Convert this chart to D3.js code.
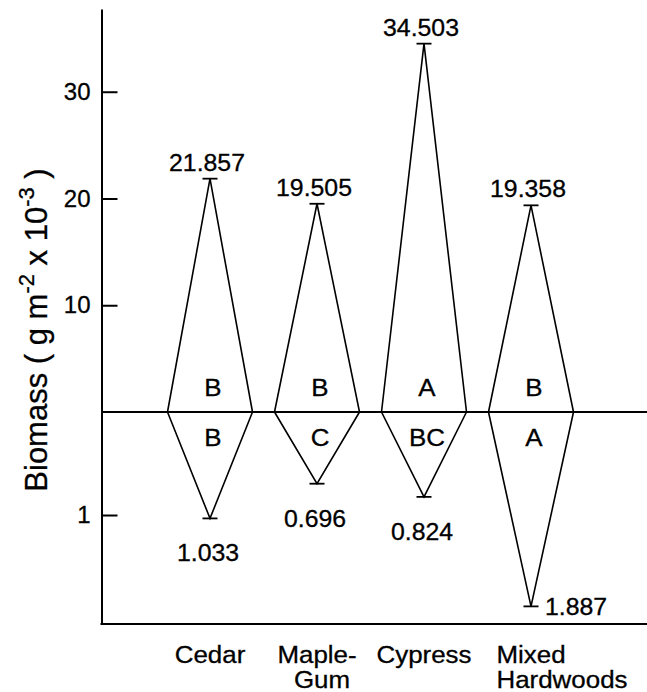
<!DOCTYPE html>
<html>
<head>
<meta charset="utf-8">
<script src="https://cdn.jsdelivr.net/npm/d3@7"></script>
<style>
  html, body { margin: 0; padding: 0; background: #fff; }
  svg { display: block; }
  text { font-family: "Liberation Sans", Arial, Helvetica, sans-serif; fill: #000; stroke: #000; stroke-width: 0.3px; }
</style>
</head>
<body>
<svg id="chart" width="647" height="692"></svg>
<script>
// ---- data ----
const categories = ["Cedar", "Maple-Gum", "Cypress", "Mixed Hardwoods"];
const categoryLines = [["Cedar"], ["Maple-", "Gum"], ["Cypress"], ["Mixed", "Hardwoods"]];
const upperValues = [21.857, 19.505, 34.503, 19.358];   // above-ground
const lowerValues = [1.033, 0.696, 0.824, 1.887];       // below-ground
const upperLetters = ["B", "B", "A", "B"];
const lowerLetters = ["B", "C", "BC", "A"];
const upperTicks = [10, 20, 30];
const lowerTicks = [1];
const upperTickLabels = ["10", "20", "30"];
const lowerTickLabels = ["1"];

// ---- layout ----
const svg = d3.select("#chart");
const axisX = 101.5;
const rightEdge = 647;
const baseY = 412;
const topY = 9;
const bottomY = 624;
const halfW = 42.5;
const capW = 7.5;

const x = d3.scalePoint().domain(categories).range([210, 531]);
const yUp = d3.scaleLinear().domain([0, 37.75]).range([baseY, topY]);
const yLow = d3.scaleLinear().domain([0, 2.058]).range([baseY, bottomY]);

const axUp = d3.axisLeft(yUp).tickValues(upperTicks)
  .tickFormat((d, i) => upperTickLabels[i]).tickSize(-16).tickSizeOuter(0).tickPadding(11);
const axLow = d3.axisLeft(yLow).tickValues(lowerTicks)
  .tickFormat((d, i) => lowerTickLabels[i]).tickSize(-16).tickSizeOuter(0).tickPadding(11);

[axUp, axLow].forEach(ax => {
  const g = svg.append("g").attr("transform", `translate(${axisX},0)`).call(ax);
  g.selectAll("path.domain").attr("stroke", "#000").attr("stroke-width", 2);
  g.selectAll(".tick line").attr("stroke", "#000").attr("stroke-width", 2);
  g.selectAll(".tick text").attr("font-size", 24).attr("font-family", "Liberation Sans, Arial, sans-serif")
    .attr("fill", "#000").attr("stroke", "#000").attr("stroke-width", 0.3);
});

svg.append("line").attr("x1", axisX).attr("x2", rightEdge).attr("y1", yUp(0)).attr("y2", yUp(0))
  .attr("stroke", "#000").attr("stroke-width", 2);
svg.append("line").attr("x1", axisX - 1).attr("x2", rightEdge).attr("y1", bottomY).attr("y2", bottomY)
  .attr("stroke", "#000").attr("stroke-width", 2);

const g = svg.append("g");
const txt = (tx, ty, s, anchor, size) => g.append("text")
  .attr("transform", `translate(${tx},${ty}) scale(1.08,1)`)
  .attr("text-anchor", anchor || "middle").attr("font-size", size || 23).text(s);

categories.forEach((c, i) => {
  const cx = x(c);
  const up = yUp(upperValues[i]);
  const lo = yLow(lowerValues[i]);
  g.append("path")
    .attr("d", `M${cx - halfW},${baseY} L${cx},${up} L${cx + halfW},${baseY}`)
    .attr("fill", "none").attr("stroke", "#000").attr("stroke-width", 1.6);
  g.append("path")
    .attr("d", `M${cx - halfW},${baseY} L${cx},${lo} L${cx + halfW},${baseY}`)
    .attr("fill", "none").attr("stroke", "#000").attr("stroke-width", 1.6);
  g.append("line").attr("x1", cx - capW).attr("x2", cx + capW).attr("y1", up).attr("y2", up)
    .attr("stroke", "#000").attr("stroke-width", 1.8);
  g.append("line").attr("x1", cx - capW).attr("x2", cx + capW).attr("y1", lo).attr("y2", lo)
    .attr("stroke", "#000").attr("stroke-width", 1.8);

  txt(cx - 3, up - 8, upperValues[i].toFixed(3));
  if (lowerValues[i] > 1.5) {
    txt(cx + 14, lo + 9, lowerValues[i].toFixed(3), "start");
  } else {
    txt(cx - 2, lo + 43, lowerValues[i].toFixed(3));
  }
  txt(cx + 3, baseY - 16, upperLetters[i], "middle", 24);
  txt(cx + 3, baseY + 34, lowerLetters[i], "middle", 24);

  const lines = categoryLines[i];
  const first = txt(cx, 663, lines[0], "middle", 24);
  if (lines.length > 1) {
    if (i === 3) {
      const w = first.node().getComputedTextLength() * 1.08;
      txt(cx - w / 2, 688, lines[1], "start", 24);
    } else {
      txt(cx + 5, 688, lines[1], "middle", 24);
    }
  }
});

const title = svg.append("text")
  .attr("transform", "translate(47,330) rotate(-90)")
  .attr("text-anchor", "middle").attr("font-size", 31);
title.append("tspan").text("Biomass ( g m");
title.append("tspan").attr("font-size", 22).attr("dy", -13).text("-2");
title.append("tspan").attr("dy", 13).text(" x 10");
title.append("tspan").attr("font-size", 22).attr("dy", -13).text("-3");
title.append("tspan").attr("dy", 13).text(" )");
</script>
</body>
</html>
